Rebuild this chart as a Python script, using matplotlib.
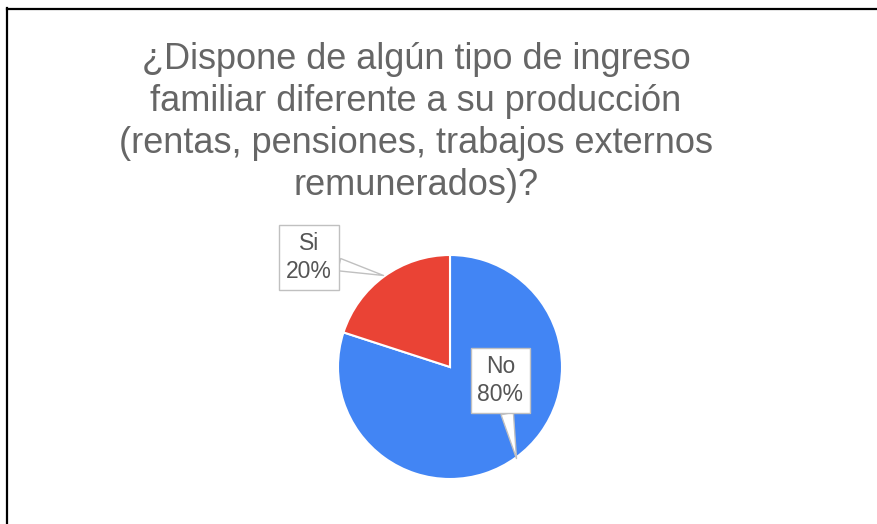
import numpy as np
import matplotlib.pyplot as plt
from matplotlib.lines import Line2D

# data
title = ("¿Dispone de algún tipo de ingreso\n"
         "familiar diferente a su producción\n"
         "(rentas, pensiones, trabajos externos\n"
         "remunerados)?")
labels = ["No", "Si"]
values = [80, 20]
colors = ["#4285F4", "#EA4335"]

W, H = 877, 524
fig = plt.figure(figsize=(W / 100, H / 100), dpi=100)
fig.patch.set_facecolor("white")
plt.rcParams["font.family"] = ["Liberation Sans", "DejaVu Sans"]

# frame lines from the screenshot (left and top)
fig.add_artist(Line2D([6.5 / W, 6.5 / W], [0, 1 - 8 / H], color="black", lw=1.6))
fig.add_artist(Line2D([6.5 / W, 1], [1 - 8.5 / H, 1 - 8.5 / H], color="black", lw=1.6))

# baseline of the last title line
fig.text(416 / W, 1 - 195 / H, title, ha="center", va="baseline",
         multialignment="center", fontsize=26, color="#666666", linespacing=1.26)

# pie axes: centre (450, 367) px, radius 112 px
cx, cy, r = 450, 367, 112
ax = fig.add_axes([(cx - r) / W, (H - cy - r) / H, 2 * r / W, 2 * r / H])
wedges, _ = ax.pie(values, colors=colors, startangle=90, counterclock=False,
                   radius=1, wedgeprops=dict(edgecolor="white", linewidth=1.5))
ax.set_xlim(-1, 1)
ax.set_ylim(-1, 1)
ax.set_aspect("equal")
ax.axis("off")

# callout boxes
box_pos = [(0.45, -0.12), (-1.26, 0.98)]
for w, lab, v, pos in zip(wedges, labels, values, box_pos):
    mid = np.deg2rad((w.theta1 + w.theta2) / 2)
    tip = (np.cos(mid) * 1.01, np.sin(mid) * 1.01)
    ax.annotate(f"{lab}\n{v}%", xy=tip, xytext=pos, ha="center", va="center",
                fontsize=16.5, color="#555555", linespacing=1.3,
                bbox=dict(boxstyle="square,pad=0.3", fc="white", ec="#c0c0c0", lw=1),
                arrowprops=dict(arrowstyle="wedge,tail_width=0.55", fc="white",
                                ec="#c0c0c0", lw=1, shrinkA=0, shrinkB=0),
                annotation_clip=False)

fig.savefig("out.png", dpi=100)
